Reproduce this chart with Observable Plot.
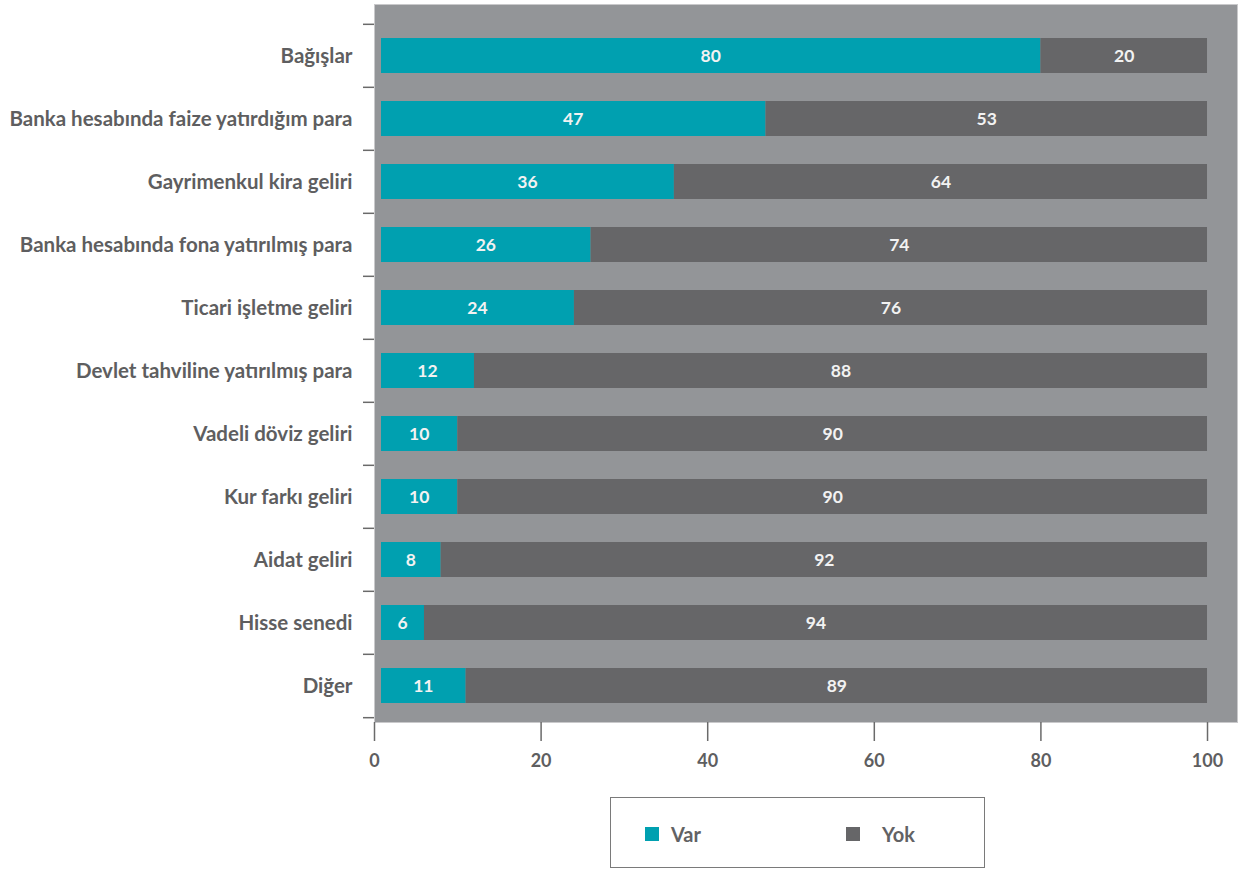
<!DOCTYPE html>
<html>
<head>
<meta charset="utf-8">
<script src="https://cdn.jsdelivr.net/npm/d3@7"></script>
<script src="https://cdn.jsdelivr.net/npm/@observablehq/plot@0.6"></script>
<style>
  body { margin: 0; background: #fff; font-family: Lato, "Open Sans", sans-serif; }
  #wrap { position: relative; width: 1240px; height: 870px; }
  #legend {
    position: absolute; left: 610px; top: 797px; width: 373px; height: 69px;
    border: 1.5px solid #7a7a7a; box-sizing: content-box;
  }
  .item { position: absolute; top: 24px; font-size: 20px; font-weight: 700; color: #626264; display: flex; align-items: center; }
  .sw { width: 14px; height: 14px; display: inline-block; }
</style>
</head>
<body>
<div id="wrap">
  <div id="chart"></div>
  <div id="legend"></div>
</div>
<script>
const categories = [
  "Bağışlar",
  "Banka hesabında faize yatırdığım para",
  "Gayrimenkul kira geliri",
  "Banka hesabında fona yatırılmış para",
  "Ticari işletme geliri",
  "Devlet tahviline yatırılmış para",
  "Vadeli döviz geliri",
  "Kur farkı geliri",
  "Aidat geliri",
  "Hisse senedi",
  "Diğer"
];
const varValues = [80, 47, 36, 26, 24, 12, 10, 10, 8, 6, 11];
const yokValues = [20, 53, 64, 74, 76, 88, 90, 90, 92, 94, 89];
const seriesNames = ["Var", "Yok"];
const seriesColors = ["#00a0b0", "#666668"];
const xTicks = [0, 20, 40, 60, 80, 100];

const rows = categories.map((c, i) => ({cat: c, var: varValues[i], yok: yokValues[i]}));
const textColor = "#5e5e60";
const yRange = [22, 719];
const step = (yRange[1] - yRange[0]) / categories.length;

const chart = Plot.plot({
  width: 1240,
  height: 792,
  marginLeft: 374,
  marginRight: 3,
  marginTop: 4,
  marginBottom: 70,
  style: {fontFamily: "Lato, 'Open Sans', sans-serif", color: textColor, background: "transparent"},
  x: {domain: [0, 103.6]},
  y: {domain: categories, range: yRange, paddingInner: 0.45, paddingOuter: 0.225},
  marks: [
    Plot.frame({fill: "#939598", stroke: "#c9c9cb", strokeWidth: 1}),
    Plot.barX(rows, {y: "cat", x1: 0, x2: "var", fill: seriesColors[0], insetLeft: 7}),
    Plot.barX(rows, {y: "cat", x1: "var", x2: d => d.var + d.yok, fill: seriesColors[1]}),
    Plot.text(rows, {y: "cat", x: d => d.var / 2, text: d => String(d.var), fill: "#f2f2f2", fontSize: 17.5, fontWeight: 700, dx: 3}),
    Plot.text(rows, {y: "cat", x: d => d.var + d.yok / 2, text: d => String(d.yok), fill: "#f2f2f2", fontSize: 17.5, fontWeight: 700}),
    Plot.axisX({ticks: xTicks, tickSize: 19, tickPadding: 13, fontSize: 18, fontWeight: 700, stroke: "#6a6a6a", strokeWidth: 1.5, color: textColor, label: null, style: {letterSpacing: "2px"}}),
    Plot.axisY({tickSize: 0, tickPadding: 22, fontSize: 20.5, fontWeight: 700, label: null, color: textColor}),
    Plot.axisY({tickSize: 11, text: null, dy: -step / 2, stroke: "#6a6a6a", strokeWidth: 1.5, label: null}),
    Plot.axisY({ticks: [categories[categories.length - 1]], tickSize: 11, text: null, dy: step / 2, stroke: "#6a6a6a", strokeWidth: 1.5, label: null})
  ]
});
document.getElementById("chart").appendChild(chart);

const legend = document.getElementById("legend");
const lefts = [34, 235];
const gaps = [12, 22];
seriesNames.forEach((name, i) => {
  const item = document.createElement("div");
  item.className = "item";
  item.style.left = lefts[i] + "px";
  item.innerHTML = `<span class="sw" style="background:${seriesColors[i]};margin-right:${gaps[i]}px"></span>${name}`;
  legend.appendChild(item);
});
</script>
</body>
</html>
